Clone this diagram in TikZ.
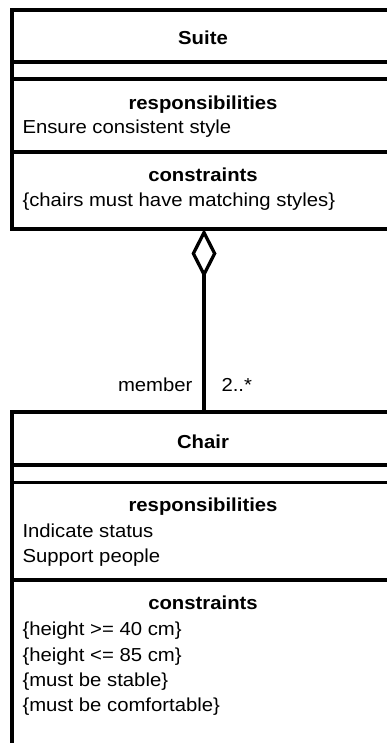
\documentclass[tikz,border=0pt]{standalone}
\usepackage{fontspec}
\setmainfont[FakeStretch=1.08]{Liberation Sans}
\usetikzlibrary{arrows.meta}
\begin{document}
\begin{tikzpicture}[x=1pt,y=-1pt,
  every node/.style={font=\fontsize{18.8}{25}\selectfont, inner sep=0pt, outer sep=0pt},
  umlbox/.style={draw, line width=3.3pt, rectangle, minimum width=384pt, fill=white},
  sepline/.style={line width=3.3pt},
  heading/.style={anchor=base, font=\fontsize{18.8}{25}\selectfont\bfseries},
  item/.style={anchor=base west},
  assoc/.style={line width=3.3pt, -{Diamond[open, length=49pt, width=25pt]}}]
\useasboundingbox (0,0) rectangle (387,743);
\fill[white] (0,0) rectangle (387,743);
% boxes
\node[umlbox, minimum height=219pt] (suite) at (204,119.5) {};
\node[umlbox, minimum height=368pt] (chair) at (204,596) {};
% Suite compartments
\draw[sepline] (suite.west |- 0,62) -- (suite.east |- 0,62);
\draw[sepline] (suite.west |- 0,79) -- (suite.east |- 0,79);
\draw[sepline] (suite.west |- 0,152) -- (suite.east |- 0,152);
\node[heading] (suitename) at (203,45) {Suite};
\node[heading] (suiteresp) at (203,110) {responsibilities};
\node[item] (suiteresp1) at (22.5,134) {Ensure consistent style};
\node[heading] (suitecons) at (203,182) {constraints};
\node[item] (suitecons1) at (22.5,207) {\{chairs must have matching styles\}};
% Chair compartments
\draw[sepline] (chair.west |- 0,465) -- (chair.east |- 0,465);
\draw[sepline] (chair.west |- 0,482.5) -- (chair.east |- 0,482.5);
\draw[sepline] (chair.west |- 0,580) -- (chair.east |- 0,580);
\node[heading] (chairname) at (203,448) {Chair};
\node[heading] (chairresp) at (203,511.5) {responsibilities};
\node[item] (chairresp1) at (22.5,537) {Indicate status};
\node[item] (chairresp2) at (22.5,562.5) {Support people};
\node[heading] (chaircons) at (203,609.5) {constraints};
\node[item] (chaircons1) at (22.5,635.7) {\{height >= 40 cm\}};
\node[item] (chaircons2) at (22.5,661) {\{height <= 85 cm\}};
\node[item] (chaircons3) at (22.5,686) {\{must be stable\}};
\node[item] (chaircons4) at (22.5,711) {\{must be comfortable\}};
% association
\draw[assoc] (chair.north) -- (suite.south);
\node[anchor=base east] (role) at (192.5,391.7) {member};
\node[anchor=base west] (mult) at (221.5,391.7) {2..*};
\end{tikzpicture}
\end{document}
